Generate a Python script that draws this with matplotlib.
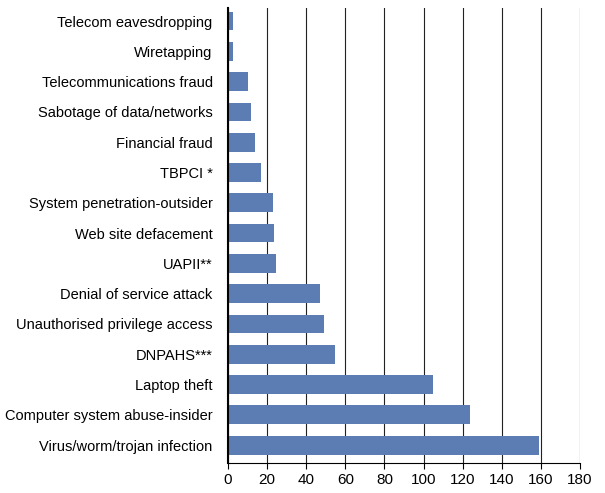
import matplotlib.pyplot as plt

categories = ["Telecom eavesdropping", "Wiretapping", "Telecommunications fraud",
              "Sabotage of data/networks", "Financial fraud", "TBPCI *",
              "System penetration-outsider", "Web site defacement", "UAPII**",
              "Denial of service attack", "Unauthorised privilege access",
              "DNPAHS***", "Laptop theft", "Computer system abuse-insider",
              "Virus/worm/trojan infection"]
values = [2.5, 2.5, 10, 12, 14, 17, 23, 23.5, 24.5, 47, 49, 54.5, 105, 124, 159]

plt.rcParams['font.family'] = ['Liberation Sans', 'DejaVu Sans']
fig = plt.figure(figsize=(6.05, 4.93), dpi=100)
ax = fig.add_axes([228/605, 1-463/493, 352/605, 455/493])

y = list(range(len(categories)))
ax.barh(y, values, height=0.62, color='#5b7db4', zorder=2)
ax.set_ylim(len(categories)-0.41, -0.43)
ax.set_xlim(0, 180)
ax.set_xticks(range(0, 181, 20))
ax.set_yticks(y)
ax.set_yticklabels(categories, fontsize=10.5)
ax.tick_params(axis='x', labelsize=11, direction='out', length=4)
ax.tick_params(axis='y', length=0, pad=11)
ax.grid(axis='x', color='#222222', linewidth=0.8, zorder=0)
for s in ['top', 'right']:
    ax.spines[s].set_visible(False)
ax.spines['left'].set_linewidth(1.5)

fig.savefig('out.png', dpi=100)
